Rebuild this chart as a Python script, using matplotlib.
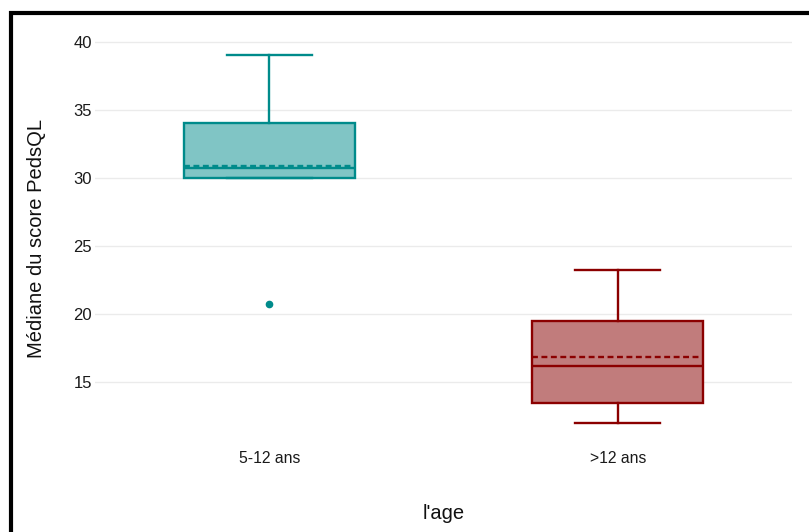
import matplotlib
matplotlib.use("Agg")
import matplotlib.pyplot as plt
from matplotlib.patches import Rectangle

plt.rcParams["font.family"] = ["Liberation Sans", "DejaVu Sans"]

# summary stats per age group
groups = ["5-12 ans", ">12 ans"]
q1 = [30.0, 13.45]
median = [30.75, 16.15]
q3 = [34.0, 19.5]
whisk_lo = [30.0, 12.0]
whisk_hi = [39.0, 23.25]
mean = [30.9, 16.85]
outliers = [[20.75], []]

line_colors = ["#008b8b", "#8b0000"]
fill_colors = ["#80c5c5", "#c17c7c"]

fig = plt.figure(figsize=(8.09, 5.32), dpi=100)
ax = fig.add_axes([95 / 809, 1 - 441 / 532, (792 - 95) / 809, (441 - 37) / 532])

stats = []
for i, g in enumerate(groups):
    stats.append(dict(label=g, q1=q1[i], med=median[i], q3=q3[i],
                      whislo=whisk_lo[i], whishi=whisk_hi[i],
                      mean=mean[i], fliers=outliers[i]))

for i, s in enumerate(stats):
    c = line_colors[i]
    ax.bxp([s], positions=[i + 1], widths=0.49, patch_artist=True,
           showmeans=True, meanline=True, showcaps=True,
           boxprops=dict(facecolor=fill_colors[i], edgecolor=c, linewidth=1.7),
           medianprops=dict(color=c, linewidth=1.7),
           meanprops=dict(color=c, linewidth=1.7, linestyle=(0, (2.5, 1.5))),
           whiskerprops=dict(color=c, linewidth=1.7),
           capprops=dict(color=c, linewidth=1.7),
           capwidths=0.245,
           flierprops=dict(marker="o", markerfacecolor=c, markeredgecolor=c,
                           markersize=4.5))

ax.set_xlim(0.5, 2.5)
ax.set_ylim(10.65, 40.35)
ax.set_yticks([15, 20, 25, 30, 35, 40])
ax.set_xticks([1, 2])
ax.set_xticklabels(groups)
ax.yaxis.grid(True, color="#ebebeb", linewidth=1.0)
ax.set_axisbelow(True)
for sp in ax.spines.values():
    sp.set_visible(False)
ax.tick_params(axis="both", length=0, colors="#1a1a1a")
ax.tick_params(axis="x", pad=7.5, labelsize=11.3)
ax.tick_params(axis="y", pad=2, labelsize=12)

ax.set_ylabel("Médiane du score PedsQL", fontsize=14.5, labelpad=20, color="#111111")
ax.set_xlabel("l'age", fontsize=14.5, labelpad=27, color="#111111")

# thick frame around the figure
fig.patches.append(Rectangle((10.5 / 809, -0.2), 1.2, 1.2 - 13 / 532,
                             transform=fig.transFigure, fill=False,
                             edgecolor="black", linewidth=3.0, zorder=10))

fig.savefig("out.png", dpi=100)
